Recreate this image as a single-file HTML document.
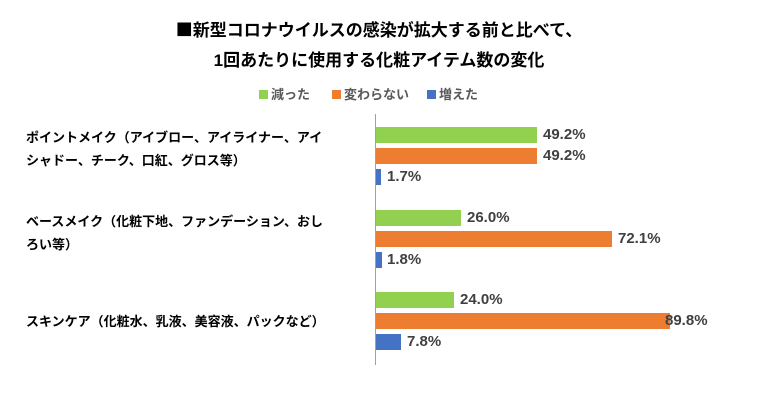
<!DOCTYPE html>
<html><head><meta charset="utf-8"><style>
body{margin:0;width:758px;height:409px;background:#fff;overflow:hidden;font-family:"Liberation Sans","Noto Sans CJK JP",sans-serif;}
.t{position:absolute;left:0;width:758px;text-align:center;font-weight:bold;font-size:17px;color:#000;white-space:nowrap}
.b{position:absolute;height:16px}
.g{background:#92d050}.o{background:#ed7d31}.u{background:#4472c4}
.v{position:absolute;font-size:15px;font-weight:bold;color:#404040;line-height:16px}
.c{position:absolute;left:26px;font-size:13px;font-weight:bold;color:#000;line-height:23px;white-space:nowrap}
.lg{position:absolute;top:84px;font-size:13px;font-weight:bold;color:#595959;white-space:nowrap}
.lg i{display:inline-block;width:9px;height:9px;margin-right:3px}
</style></head><body>
<div class="t" style="top:16px"><span style="font-family:'Noto Sans CJK JP',sans-serif">■</span>新型コロナウイルスの感染が拡大する前と比べて、</div>
<div class="t" style="top:46px">1回あたりに使用する化粧アイテム数の変化</div>
<div class="lg" style="left:259px"><i class="g"></i>減った</div>
<div class="lg" style="left:332px"><i class="o"></i>変わらない</div>
<div class="lg" style="left:427px"><i class="u"></i>増えた</div>
<div style="position:absolute;left:375px;top:114px;width:1px;height:251px;background:#a0a0a0"></div>
<div class="c" style="top:126px">ポイントメイク（アイブロー、アイライナー、アイ<br>シャドー、チーク、口紅、グロス等）</div>
<div class="c" style="top:210px">ベースメイク（化粧下地、ファンデーション、おし<br>ろい等）</div>
<div class="c" style="top:310px">スキンケア（化粧水、乳液、美容液、パックなど）</div>
<div class="b g" style="left:376px;top:127px;width:161px"></div><div class="v" style="left:543px;top:127px">49.2%</div>
<div class="b o" style="left:376px;top:148px;width:161px"></div><div class="v" style="left:543px;top:148px">49.2%</div>
<div class="b u" style="left:376px;top:169px;width:5px"></div><div class="v" style="left:387px;top:169px">1.7%</div>
<div class="b g" style="left:376px;top:210px;width:85px"></div><div class="v" style="left:467px;top:210px">26.0%</div>
<div class="b o" style="left:376px;top:231px;width:236px"></div><div class="v" style="left:618px;top:231px">72.1%</div>
<div class="b u" style="left:376px;top:252px;width:6px"></div><div class="v" style="left:387px;top:252px">1.8%</div>
<div class="b g" style="left:376px;top:292px;width:78px"></div><div class="v" style="left:460px;top:292px">24.0%</div>
<div class="b o" style="left:376px;top:313px;width:294px"></div><div class="v" style="left:665px;top:313px">89.8%</div>
<div class="b u" style="left:376px;top:334px;width:25px"></div><div class="v" style="left:407px;top:334px">7.8%</div>
</body></html>
